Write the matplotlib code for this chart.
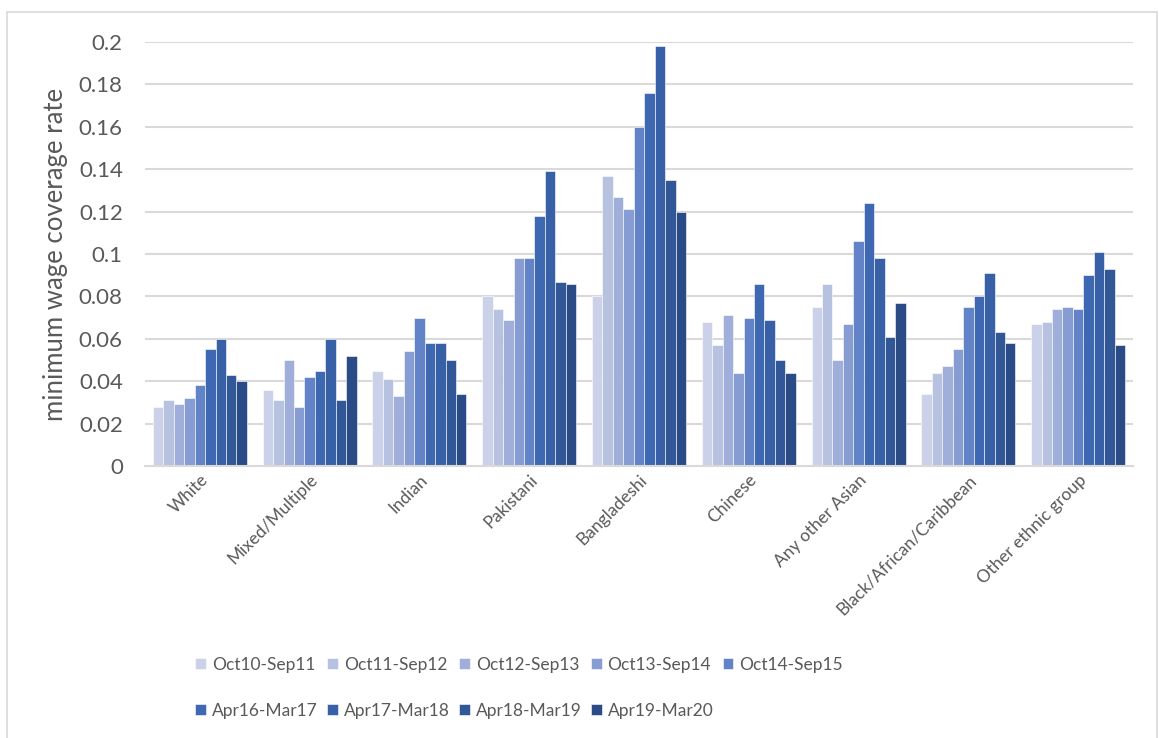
import matplotlib.pyplot as plt
import matplotlib.patches as mpatches
import numpy as np

plt.rcParams['font.family'] = ['Lato', 'DejaVu Sans']

groups = ['White', 'Mixed/Multiple', 'Indian', 'Pakistani', 'Bangladeshi',
          'Chinese', 'Any other Asian', 'Black/African/Caribbean',
          'Other ethnic group']

periods = ['Oct10-Sep11', 'Oct11-Sep12', 'Oct12-Sep13', 'Oct13-Sep14',
           'Oct14-Sep15', 'Apr16-Mar17', 'Apr17-Mar18', 'Apr18-Mar19',
           'Apr19-Mar20']

# coverage rate per group, one list per survey period
oct10_sep11 = [0.028, 0.036, 0.045, 0.080, 0.080, 0.068, 0.075, 0.034, 0.067]
oct11_sep12 = [0.031, 0.031, 0.041, 0.074, 0.137, 0.057, 0.086, 0.044, 0.068]
oct12_sep13 = [0.029, 0.050, 0.033, 0.069, 0.127, 0.071, 0.050, 0.047, 0.074]
oct13_sep14 = [0.032, 0.028, 0.054, 0.098, 0.121, 0.044, 0.067, 0.055, 0.075]
oct14_sep15 = [0.038, 0.042, 0.070, 0.098, 0.160, 0.070, 0.106, 0.075, 0.074]
apr16_mar17 = [0.055, 0.045, 0.058, 0.118, 0.176, 0.086, 0.124, 0.080, 0.090]
apr17_mar18 = [0.060, 0.060, 0.058, 0.139, 0.198, 0.069, 0.098, 0.091, 0.101]
apr18_mar19 = [0.043, 0.031, 0.050, 0.087, 0.135, 0.050, 0.061, 0.063, 0.093]
apr19_mar20 = [0.040, 0.052, 0.034, 0.086, 0.120, 0.044, 0.077, 0.058, 0.057]

series = [oct10_sep11, oct11_sep12, oct12_sep13, oct13_sep14, oct14_sep15,
          apr16_mar17, apr17_mar18, apr18_mar19, apr19_mar20]

colors = ['#CBD1E8', '#B7C2E0', '#A0AFD9', '#869CD2', '#6283C8',
          '#3E68B2', '#3860A6', '#325796', '#2B4B86']

text_col = '#595959'
grid_col = '#D9D9D9'

fig = plt.figure(figsize=(11.59, 7.38), dpi=100)
ax = fig.add_axes([0.1251, 0.3686, 0.8525, 0.5745])

n = len(series)
bw = 1.0 / (n + 1.5)
x = np.arange(len(groups))
for i, vals in enumerate(series):
    off = (i - (n - 1) / 2) * bw
    ax.bar(x + off, vals, width=bw, color=colors[i], edgecolor='white',
           linewidth=0.4, label=periods[i], zorder=3)

ax.set_xlim(-0.5, len(groups) - 0.5)
ax.set_ylim(0, 0.2)
ax.set_yticks(np.arange(0, 0.201, 0.02))
ax.set_yticklabels(['0', '0.02', '0.04', '0.06', '0.08', '0.1', '0.12',
                    '0.14', '0.16', '0.18', '0.2'])
ax.yaxis.grid(True, color=grid_col, linewidth=1.5, zorder=0)
ax.tick_params(axis='y', length=0, pad=16, labelsize=16, labelcolor=text_col)
ax.tick_params(axis='x', length=0, pad=4, labelsize=12.5, labelcolor=text_col)
ax.set_xticks(x)
ax.set_xticklabels(groups, rotation=45, ha='right', va='top',
                   rotation_mode='anchor')

for s in ['top', 'right', 'left']:
    ax.spines[s].set_visible(False)
ax.spines['bottom'].set_color(grid_col)
ax.spines['bottom'].set_linewidth(1.5)
ax.spines['bottom'].set_zorder(4)

ax.set_ylabel('minimum wage coverage rate', fontsize=18.5, color=text_col,
              labelpad=8)

# row-major order for a 5-column legend
handles, labels = ax.get_legend_handles_labels()
order = [0, 5, 1, 6, 2, 7, 3, 8, 4]
fig.legend([handles[k] for k in order], [labels[k] for k in order],
           loc='center', bbox_to_anchor=(0.448, 0.068), ncol=5, frameon=False,
           fontsize=12.5, labelcolor=text_col, handlelength=0.6,
           handleheight=0.6, handletextpad=0.35, columnspacing=0.55,
           labelspacing=1.75)

# outer chart border
fig.add_artist(mpatches.Rectangle((7 / 1159, -0.01), 1150 / 1159,
                                  1 - 12 / 738 + 0.01, transform=fig.transFigure,
                                  fill=False, edgecolor=grid_col, linewidth=1.2))

fig.savefig('out.png', dpi=100)
